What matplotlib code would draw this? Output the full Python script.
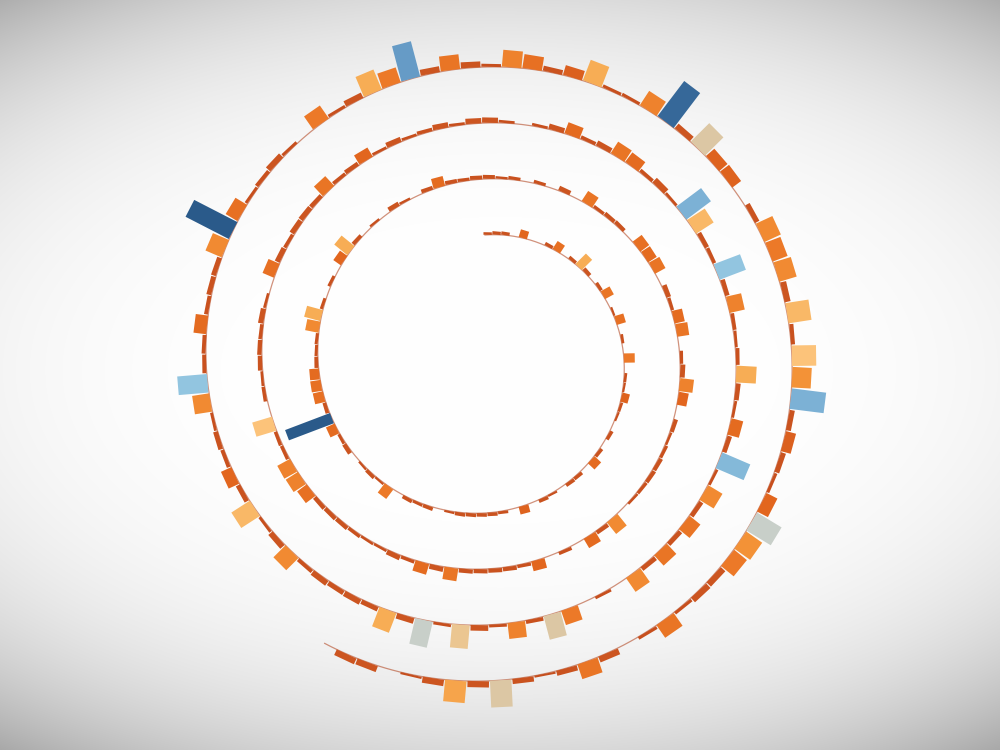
import numpy as np
import matplotlib
matplotlib.use("Agg")
import matplotlib.pyplot as plt
from matplotlib.colors import LinearSegmentedColormap
from matplotlib.patches import Polygon
from matplotlib.collections import PatchCollection

# one value per bar, in order along the spiral (clockwise from the top, inside out)
turn0 = [4, 5, 5, 0, 12, 0, 0, 5, 14, 0,
         5, 22, 6, 0, 5, 15, 0, 3, 14, 0,
         4, 0, 16, 0, 4, 3, 11, 4, 3, 0,
         5, 0, 5, 13, 0, 5, 5, 0, 3, 5,
         0, 11, 0, 4, 5, 5, 5, 5, 3, 0,
         5, 4, 5, 0, 16, 3, 5, 3, 0, 6,
         4, 13, 65, 5, 14, 14, 13, 5, 4, 4,
         18, 22, 4, 0, 4, 0, 12, 22, 5, 0,
         3, 0, 6, 3, 0, 5, 13, 5, 4, 5]
turn1 = [5, 3, 4, 0, 4, 0, 6, 0, 15, 4,
         5, 5, 0, 14, 13, 15, 0, 6, 4, 13,
         15, 0, 4, 6, 17, 12, 0, 5, 3, 4,
         5, 5, 4, 3, 0, 18, 5, 13, 0, 4,
         0, 12, 4, 5, 5, 5, 5, 15, 6, 13,
         4, 6, 3, 3, 4, 5, 5, 5, 14, 17,
         17, 4, 4, 24, 0, 4, 3, 5, 5, 4,
         6, 3, 0, 14, 6, 4, 6, 6, 5, 15,
         4, 5, 12, 3, 6, 3, 4, 6, 3, 6]
turn2 = [6, 3, 0, 3, 6, 13, 4, 6, 15, 13,
         4, 7, 3, 34, 23, 5, 4, 31, 5, 17,
         4, 3, 4, 22, 5, 3, 13, 5, 33, 3,
         18, 5, 15, 5, 15, 5, 18, 0, 3, 0,
         16, 26, 4, 17, 3, 6, 25, 3, 28, 6,
         22, 5, 6, 5, 6, 4, 18, 6, 3, 23,
         5, 12, 4, 5, 3, 18, 31, 4, 4, 13,
         4, 5, 5, 18, 50, 14, 3, 4, 6, 3,
         0, 16, 3, 6, 22, 16, 37, 6, 15, 6]
turn3 = [3, 17, 14, 5, 10, 22, 3, 3, 17, 44,
         6, 26, 11, 11, 0, 5, 18, 16, 18, 6,
         23, 4, 24, 19, 34, 5, 10, 5, 3, 12,
         28, 19, 16, 6, 6, 3, 15, 3, 0, 6,
         15, 5, 2, 5, 26, 6, 21, 6, 2, 0,
         6, 6]
values = np.array(turn0 + turn1 + turn2 + turn3, dtype=float)

# colour scale: value -> colour
stop_values = [0, 6, 12, 16, 19, 22, 24, 26, 28, 31, 36, 42, 50]
stop_colors = ["#c24a1b", "#cc5520", "#e2661e", "#ec7a28", "#f39237", "#f7ad55",
               "#fcc47c", "#ddc7a3", "#c9cfc9", "#92c5e0", "#6fa5cf", "#3a6d9e",
               "#2a5a8a"]
vmax = stop_values[-1]
cmap = LinearSegmentedColormap.from_list(
    "spiral", [(v / vmax, c) for v, c in zip(stop_values, stop_colors)])

# spiral layout (pixel space)
cx, cy = 485, 360
r_start = 125
r_per_turn = 56
step = 4.0  # degrees per bar
offset = 0.3  # bar centre within its step


def radius(theta_deg):
    return r_start + r_per_turn * theta_deg / 360.0


fig = plt.figure(figsize=(10, 7.5), dpi=100)
ax = fig.add_axes([0, 0, 1, 1])
ax.set_xlim(0, 1000)
ax.set_ylim(750, 0)
ax.axis("off")

# vignette background: white centre, grey corners
yy, xx = np.mgrid[0:750, 0:1000]
d2 = ((xx - 500) / 500) ** 2 + 1.87 * ((yy - 370) / 375) ** 2
shade = np.clip(1 - 0.04 * d2 ** 2, 0, 1)
ax.imshow(np.dstack([shade] * 3), extent=(0, 1000, 750, 0), zorder=0)

# the spiral line
n = len(values)
th_line = np.linspace(0, n * step + 1.5, 2000)
r_line = radius(th_line)
t = np.radians(th_line)
ax.plot(cx + r_line * np.sin(t), cy - r_line * np.cos(t),
        color="#b34a26", lw=0.9, alpha=0.6, zorder=1)

# bars
patches = []
cols = []
for i, v in enumerate(values):
    if v <= 0:
        continue
    th = (i + offset) * step
    r = radius(th)
    a = np.radians(th)
    u = np.array([np.sin(a), -np.cos(a)])   # outward
    tg = np.array([np.cos(a), np.sin(a)])   # along the spiral
    p = np.array([cx, cy]) + r * u
    half = r * np.radians(step) * 0.48
    h = v * np.sqrt(r / 300.0)
    corners = [p - tg * half, p + tg * half,
               p + tg * half + u * h, p - tg * half + u * h]
    patches.append(Polygon(corners, closed=True))
    cols.append(cmap(min(v, vmax) / vmax))

ax.add_collection(PatchCollection(patches, facecolors=cols, edgecolors="none",
                                  zorder=2))

fig.savefig("out.png", dpi=100)
